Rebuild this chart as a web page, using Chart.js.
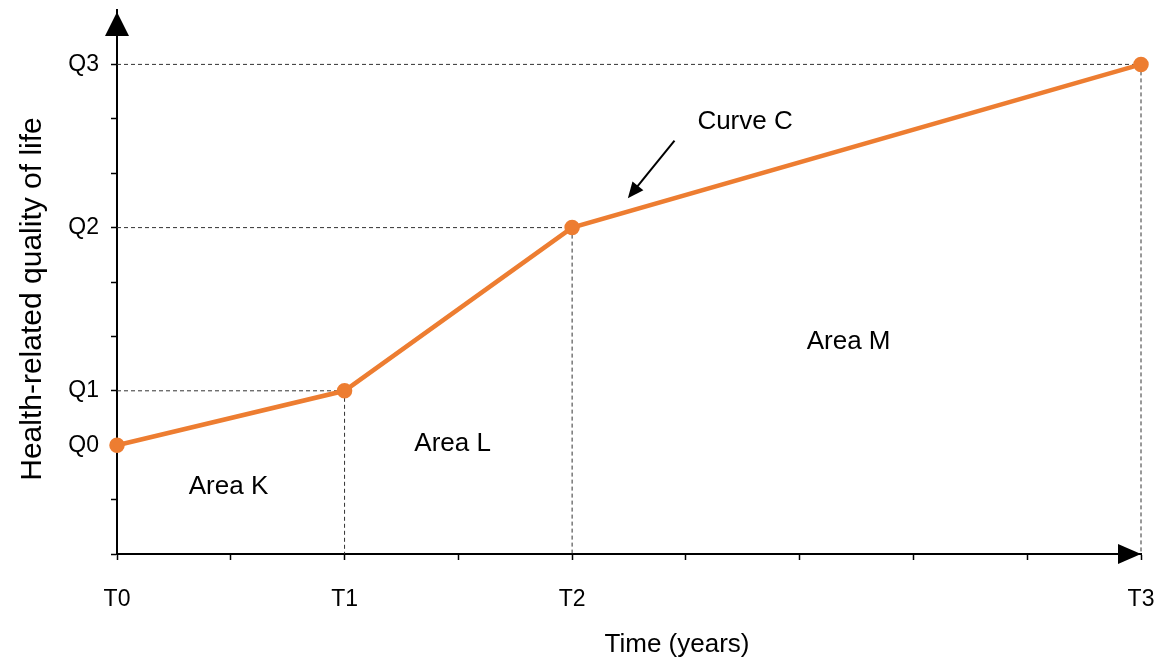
<!DOCTYPE html>
<html>
<head>
<meta charset="utf-8">
<script src="https://cdn.jsdelivr.net/npm/chart.js@4.4.1/dist/chart.umd.min.js"></script>
<style>
  body { margin: 0; background: #fff; }
  canvas { display: block; }
</style>
</head>
<body>
<canvas id="grafico" width="1168" height="662"></canvas>
<script>
// datos de la curva
const timeLabels = ['T0', 'T1', 'T2', 'T3'];
const timeValues = [0, 2, 4, 9];
const qualityLabels = ['Q0', 'Q1', 'Q2', 'Q3'];
const qualityValues = [2, 3, 6, 9];
const xTickValues = [0, 1, 2, 3, 4, 5, 6, 7, 8, 9];
const yTickValues = [0, 1, 2, 3, 4, 5, 6, 7, 8, 9];

// textos de las áreas (posición en unidades de datos)
const areaNames = ['Area K', 'Area L', 'Area M'];
const areaX = [0.98, 2.95, 6.43];
const areaY = [1.23, 2.03, 3.9];

const FONT = '"Liberation Sans", Arial, sans-serif';

const extras = {
    id: 'extras',
    beforeDatasetsDraw(chart) {
        const ctx = chart.ctx;
        const x = chart.scales.x, y = chart.scales.y;
        ctx.save();
        ctx.strokeStyle = '#333';
        ctx.lineWidth = 1;
        ctx.setLineDash([4, 3]);
        for (let i = 1; i < timeValues.length; i++) {
            const px = x.getPixelForValue(timeValues[i]);
            const py = y.getPixelForValue(qualityValues[i]);
            ctx.beginPath();
            ctx.moveTo(x.left, py);
            ctx.lineTo(px, py);
            ctx.moveTo(px, py);
            ctx.lineTo(px, y.bottom);
            ctx.stroke();
        }
        ctx.restore();
    },
    afterDraw(chart) {
        const ctx = chart.ctx;
        const x = chart.scales.x, y = chart.scales.y;
        const area = chart.chartArea;
        ctx.save();
        ctx.fillStyle = '#000';
        ctx.strokeStyle = '#000';

        // flecha del eje x
        const ax = x.getPixelForValue(9);
        ctx.beginPath();
        ctx.moveTo(ax, y.bottom);
        ctx.lineTo(ax - 23, y.bottom - 10);
        ctx.lineTo(ax - 23, y.bottom + 10);
        ctx.closePath();
        ctx.fill();

        // flecha del eje y
        const ay = area.top + 2;
        ctx.beginPath();
        ctx.moveTo(x.left, ay);
        ctx.lineTo(x.left - 12, ay + 24);
        ctx.lineTo(x.left + 12, ay + 24);
        ctx.closePath();
        ctx.fill();

        // textos de áreas
        ctx.font = '26px ' + FONT;
        ctx.textAlign = 'center';
        ctx.textBaseline = 'middle';
        areaNames.forEach((t, i) => {
            ctx.fillText(t, x.getPixelForValue(areaX[i]), y.getPixelForValue(areaY[i]));
        });
        ctx.fillText('Curve C', x.getPixelForValue(5.52), y.getPixelForValue(7.95));

        // flecha hacia la curva
        const x1 = x.getPixelForValue(4.9), y1 = y.getPixelForValue(7.6);
        const x2 = x.getPixelForValue(4.49), y2 = y.getPixelForValue(6.54);
        const ang = Math.atan2(y2 - y1, x2 - x1);
        ctx.lineWidth = 2;
        ctx.beginPath();
        ctx.moveTo(x1, y1);
        ctx.lineTo(x2 - 10 * Math.cos(ang), y2 - 10 * Math.sin(ang));
        ctx.stroke();
        ctx.beginPath();
        ctx.moveTo(x2, y2);
        ctx.lineTo(x2 - 16 * Math.cos(ang) + 7 * Math.sin(ang), y2 - 16 * Math.sin(ang) - 7 * Math.cos(ang));
        ctx.lineTo(x2 - 16 * Math.cos(ang) - 7 * Math.sin(ang), y2 - 16 * Math.sin(ang) + 7 * Math.cos(ang));
        ctx.closePath();
        ctx.fill();

        // títulos de los ejes
        ctx.font = '26px ' + FONT;
        ctx.fillText('Time (years)', area.left + 560, chart.height - 17);
        ctx.translate(33, 299);
        ctx.rotate(-Math.PI / 2);
        ctx.font = '30px ' + FONT;
        ctx.fillText('Health-related quality of life', 0, 0);
        ctx.restore();
    }
};

const ctx = document.getElementById('grafico').getContext('2d');
const chart = new Chart(ctx, {
    type: 'scatter',
    data: {
        datasets: [{
            label: 'Curve C',
            data: timeValues.map((t, i) => ({ x: t, y: qualityValues[i] })),
            showLine: true,
            clip: false,
            borderColor: '#ED7D31',
            backgroundColor: '#ED7D31',
            borderWidth: 4.5,
            pointRadius: 5.5,
            pointHoverRadius: 5.5
        }]
    },
    options: {
        responsive: false,
        animation: false,
        events: [],
        layout: { padding: { left: 0, right: 27, top: 8, bottom: 0 } },
        plugins: {
            legend: { display: false },
            tooltip: { enabled: false }
        },
        scales: {
            x: {
                type: 'linear',
                min: 0,
                max: 9,
                afterFit(scale) {
                    scale.height = 108;
                    scale.paddingLeft = 0;
                    scale.paddingRight = 0;
                },
                afterBuildTicks(scale) {
                    scale.ticks = xTickValues.map(v => ({ value: v }));
                },
                ticks: {
                    autoSkip: false,
                    maxRotation: 0,
                    padding: 26,
                    color: '#000',
                    font: { family: FONT, size: 23 },
                    callback: (v) => {
                        const i = timeValues.indexOf(v);
                        return i >= 0 ? timeLabels[i] : '';
                    }
                },
                grid: {
                    drawOnChartArea: false,
                    drawTicks: true,
                    tickLength: 6,
                    tickColor: '#000',
                    tickWidth: 1.5
                },
                border: { color: '#000', width: 2 }
            },
            y: {
                type: 'linear',
                min: 0,
                max: 10,
                afterFit(scale) {
                    scale.width = 117;
                    scale.paddingTop = 0;
                    scale.paddingBottom = 0;
                },
                afterBuildTicks(scale) {
                    scale.ticks = yTickValues.map(v => ({ value: v }));
                },
                ticks: {
                    autoSkip: false,
                    padding: 12,
                    color: '#000',
                    font: { family: FONT, size: 23 },
                    callback: (v) => {
                        const i = qualityValues.indexOf(v);
                        return i >= 0 ? qualityLabels[i] : '';
                    }
                },
                grid: {
                    drawOnChartArea: false,
                    drawTicks: true,
                    tickLength: 6,
                    tickColor: '#000',
                    tickWidth: 1.5
                },
                border: { color: '#000', width: 2 }
            }
        }
    },
    plugins: [extras]
});
</script>
</body>
</html>
